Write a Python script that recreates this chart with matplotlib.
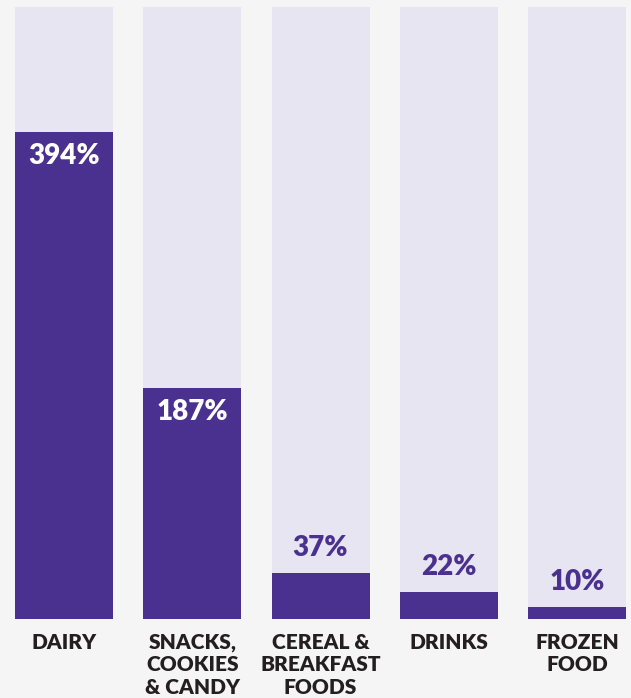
import matplotlib.pyplot as plt
import numpy as np

categories = ["DAIRY", "SNACKS,\nCOOKIES\n& CANDY", "CEREAL &\nBREAKFAST\nFOODS", "DRINKS", "FROZEN\nFOOD"]
values = [394, 187, 37, 22, 10]
value_labels = ["394%", "187%", "37%", "22%", "10%"]
track_max = 495

BG = "#f5f5f6"
TRACK = "#e7e5f2"
PURPLE = "#4b318f"
DARK = "#231f20"

plt.rcParams["font.family"] = ["Lato", "DejaVu Sans"]

fig = plt.figure(figsize=(6.31, 6.98), dpi=100, facecolor=BG)

# axes placed in pixel units so bars land where they should
W, H = 631, 698
pitch = 128.25
first = 64
ax = fig.add_axes([0, 79 / H, 1, (691 - 79) / H])
ax.set_facecolor(BG)

x = np.arange(len(categories))
width = 98 / pitch

ax.bar(x, [track_max] * len(x), width=width, color=TRACK, zorder=1)
ax.bar(x, values, width=width, color=PURPLE, zorder=2)

ax.set_xlim(-first / pitch, (W - first) / pitch)
ax.set_ylim(0, track_max)

px = track_max / (691 - 79)  # data units per pixel

for xi, v, lab in zip(x, values, value_labels):
    if v > 100:
        ax.text(xi, v - 24 * px, lab, ha="center", va="center",
                color="white", fontsize=20, fontweight="heavy", zorder=3)
    else:
        ax.text(xi, v + 25 * px, lab, ha="center", va="center",
                color=PURPLE, fontsize=20, fontweight="heavy", zorder=3)

ax.set_xticks(x)
ax.set_xticklabels(categories, fontsize=15, fontweight="heavy",
                   color=DARK, linespacing=1.22, va="top")
ax.tick_params(axis="x", length=0, pad=10)
ax.set_yticks([])
for s in ax.spines.values():
    s.set_visible(False)

fig.savefig("out.png", dpi=100, facecolor=BG)
